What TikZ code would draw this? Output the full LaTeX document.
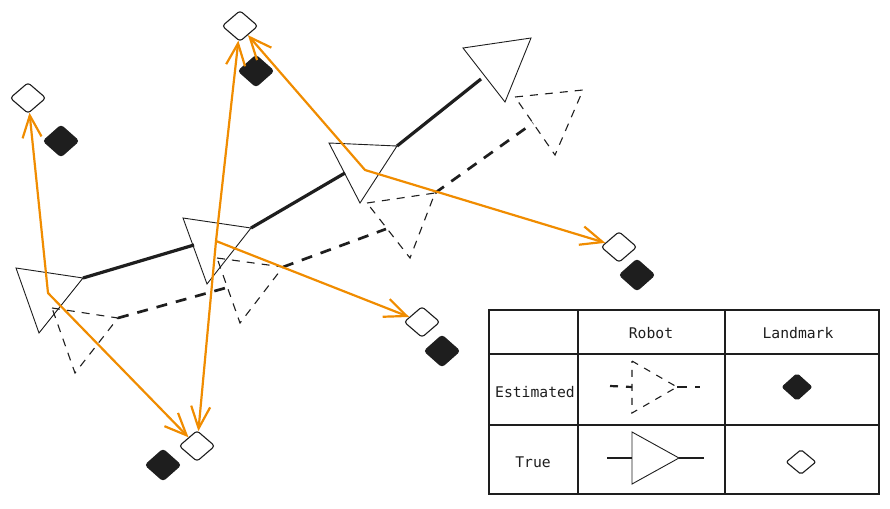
\documentclass[tikz,border=0pt]{standalone}
\usepackage{fontspec}
\setmonofont{DejaVu Sans Mono}
\usetikzlibrary{shapes.geometric,arrows.meta,calc}
\definecolor{ink}{HTML}{1E1E1E}
\definecolor{msr}{HTML}{F08C00}
\begin{document}
\begin{tikzpicture}[x=1pt,y=-1pt,
  truebot/.style={draw=ink,line width=0.9pt,line join=miter},
  estbot/.style={draw=ink,line width=1.1pt,dash pattern=on 8pt off 7pt},
  truepath/.style={draw=ink,line width=3.2pt},
  estpath/.style={draw=ink,line width=2.7pt,dash pattern=on 11pt off 9pt},
  measarrow/.style={draw=msr,line width=2.2pt,line cap=round,-{Straight Barb[length=22pt,width=19pt,line width=2.2pt]}},
  truelm/.style={diamond,draw=ink,line width=1.1pt,fill=white,minimum width=36pt,minimum height=31pt,inner sep=0pt,rounded corners=3pt},
  estlm/.style={diamond,draw=ink,line width=1.1pt,fill=ink,minimum width=36pt,minimum height=32pt,inner sep=0pt,rounded corners=3pt},
  cell/.style={font=\ttfamily\fontsize{14.7}{17}\selectfont,text=ink,inner sep=0pt},
  tabline/.style={draw=ink,line width=1.1pt},
]
\useasboundingbox (0,0) rectangle (890,508);

% ---- true robot poses
\coordinate (t1a) at (16,268); \coordinate (t1p) at (83,278); \coordinate (t1b) at (39,333);
\coordinate (t2a) at (183,218); \coordinate (t2p) at (251,228); \coordinate (t2b) at (207,284);
\coordinate (t3a) at (329,143); \coordinate (t3p) at (397,146); \coordinate (t3b) at (360,203);
\coordinate (t4a) at (463,48); \coordinate (t4p) at (531,38); \coordinate (t4b) at (505,102);
\coordinate (t2in) at (194,245); \coordinate (t3in) at (345,173); \coordinate (t4in) at (481,79);
\coordinate (t1c) at (48,293); \coordinate (t2c) at (216,241); \coordinate (t3c) at (365,170);

% ---- estimated robot poses
\coordinate (e1a) at (52,308); \coordinate (e1p) at (118,318); \coordinate (e1b) at (75,373);
\coordinate (e2a) at (217,258); \coordinate (e2p) at (283,267); \coordinate (e2b) at (240,323);
\coordinate (e3a) at (367,203); \coordinate (e3p) at (435,193); \coordinate (e3b) at (410,258);
\coordinate (e4a) at (515,97); \coordinate (e4p) at (583,90); \coordinate (e4b) at (555,155);
\coordinate (e2in) at (229,287); \coordinate (e3in) at (386,229); \coordinate (e4in) at (533,123);

\foreach \r in {e1,e2,e3,e4} \draw[estbot] (\r a) -- (\r p) -- (\r b) -- cycle;
\draw[estpath] (e1p) -- (e2in);
\draw[estpath] (e2p) -- (e3in);
\draw[estpath] (e3p) -- (e4in);

\foreach \r in {t1,t2,t3,t4} \draw[truebot] (\r a) -- (\r p) -- (\r b) -- cycle;
\draw[truepath] (t1p) -- (t2in);
\draw[truepath] (t2p) -- (t3in);
\draw[truepath] (t3p) -- (t4in);

% ---- landmarks
\node[truelm] (l1t) at (28,98) {};
\node[estlm]  (l1e) at (61,141) {};
\node[truelm] (l2t) at (240,26) {};
\node[estlm]  (l2e) at (256,71) {};
\node[truelm] (l3t) at (197,446) {};
\node[estlm]  (l3e) at (163,465) {};
\node[truelm] (l4t) at (422,322) {};
\node[estlm]  (l4e) at (442,351) {};
\node[truelm] (l5t) at (619,247) {};
\node[estlm]  (l5e) at (637,275) {};

% ---- measurements
\draw[measarrow] (t1c) -- (l1t);
\draw[measarrow] (t1c) -- (l3t);
\draw[measarrow] (t2c) -- (l2t);
\draw[measarrow] (t2c) -- (l3t);
\draw[measarrow] (t2c) -- (l4t);
\draw[measarrow] (t3c) -- (l2t);
\draw[measarrow] (t3c) -- (l5t);

% ---- legend table
\coordinate (tabNW) at (489,310); \coordinate (tabSE) at (879,494);
\draw[tabline] (tabNW) rectangle (tabSE);
\draw[tabline] (578,310) -- (578,494);
\draw[tabline] (725,310) -- (725,494);
\draw[tabline] (489,354) -- (879,354);
\draw[tabline] (489,425) -- (879,425);
\node[cell] (hRobot) at (651,333) {Robot};
\node[cell] (hLand) at (798,333) {Landmark};
\node[cell] (hEst) at (535,392) {Estimated};
\node[cell] (hTrue) at (533,462) {True};

% legend robots
\coordinate (ge1) at (632,361); \coordinate (gep) at (677,387); \coordinate (ge2) at (632,413);
\coordinate (gel) at (610,386); \coordinate (geb) at (632,387); \coordinate (ger) at (700,387);
\draw[estbot,dash pattern=on 7pt off 7pt] (ge1) -- (gep) -- (ge2) -- cycle;
\draw[estpath,line width=2.2pt,dash pattern=on 8pt off 8pt] (gel) -- (geb);
\draw[estpath,line width=2.2pt,dash pattern=on 10pt off 8pt] (gep) -- (ger);

\coordinate (gt1) at (632,432); \coordinate (gtp) at (679,458); \coordinate (gt2) at (632,484);
\coordinate (gtl) at (607,458); \coordinate (gtb) at (632,458); \coordinate (gtr) at (704,458);
\draw[truebot] (gt1) -- (gtp) -- (gt2) -- cycle;
\draw[truepath,line width=2.4pt] (gtl) -- (gtb);
\draw[truepath,line width=2.4pt] (gtp) -- (gtr);

% legend landmarks
\node[estlm,minimum width=30pt,minimum height=27pt,rounded corners=2pt] (gle) at (797,387) {};
\node[truelm,minimum width=30pt,minimum height=25pt,rounded corners=2pt] (glt) at (801,462) {};
\end{tikzpicture}
\end{document}
